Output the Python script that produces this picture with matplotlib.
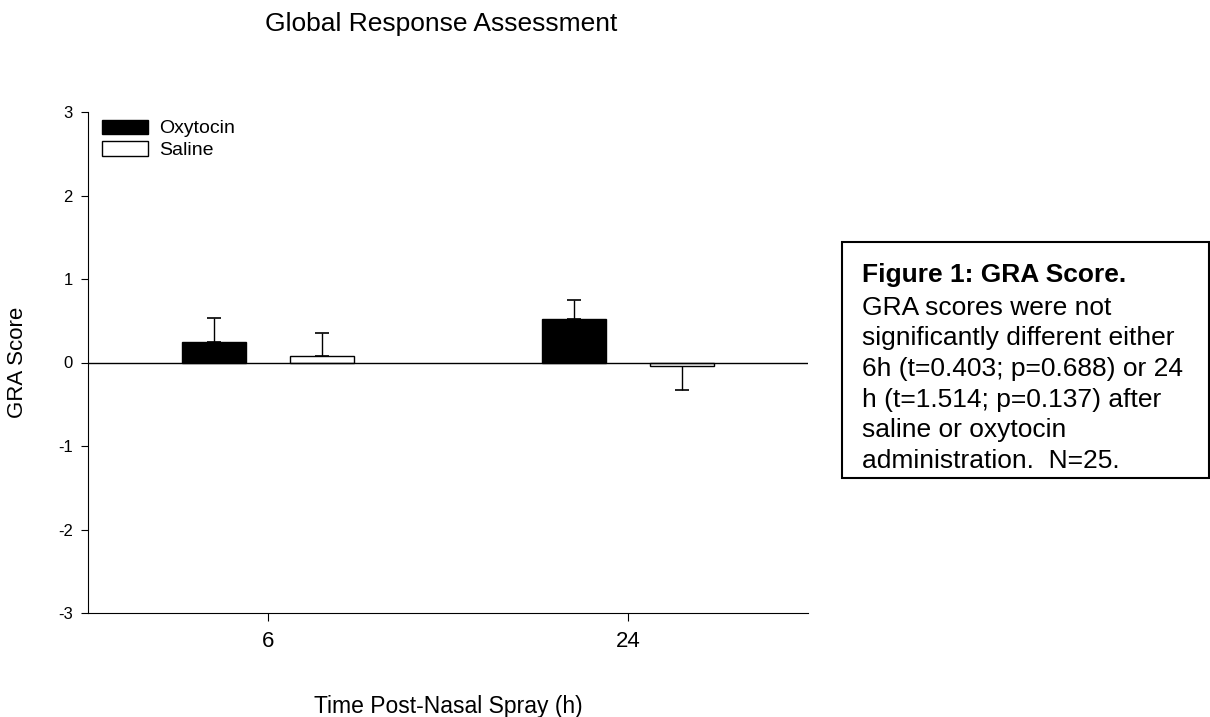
import matplotlib
matplotlib.use('Agg')
import matplotlib.pyplot as plt
from matplotlib.patches import Rectangle
import numpy as np

plt.rcParams['font.family'] = ['Liberation Sans', 'DejaVu Sans']
plt.rcParams['axes.unicode_minus'] = False

# data
times = ['6', '24']
oxytocin = [0.245, 0.526]
oxytocin_err = [0.29, 0.22]
saline = [0.08, -0.043]
saline_err = [0.27, 0.29]
yticks = [-3, -2, -1, 0, 1, 2, 3]

caption_title = 'Figure 1: GRA Score.'
caption_body = ('GRA scores were not\nsignificantly different either\n'
                '6h (t=0.403; p=0.688) or 24\nh (t=1.514; p=0.137) after\n'
                'saline or oxytocin\nadministration.  N=25.')


def one_sided(vals, errs):
    # error bar only in the direction of the bar
    lo = [e if v < 0 else 0 for v, e in zip(vals, errs)]
    hi = [0 if v < 0 else e for v, e in zip(vals, errs)]
    return [lo, hi]


fig = plt.figure(figsize=(12.1, 7.17), dpi=100)
ax = fig.add_axes([88/1210, 1-613/717, 720/1210, 501/717])

x = np.arange(len(times))
w = 0.18
off = 0.15

ax.bar(x - off, oxytocin, w, color='black', edgecolor='black', linewidth=1,
       label='Oxytocin', zorder=3)
ax.bar(x + off, saline, w, color='white', edgecolor='black', linewidth=1,
       label='Saline', zorder=3)
ax.errorbar(x - off, oxytocin, yerr=one_sided(oxytocin, oxytocin_err), fmt='none',
            ecolor='black', elinewidth=1, capsize=4.7, capthick=1.2, zorder=2)
ax.errorbar(x + off, saline, yerr=one_sided(saline, saline_err), fmt='none',
            ecolor='black', elinewidth=1, capsize=4.7, capthick=1.2, zorder=2)

ax.axhline(0, color='black', linewidth=1, zorder=4)

ax.set_xlim(-0.5, 1.5)
ax.set_ylim(-3, 3)
ax.set_yticks(yticks)
ax.set_xticks(x)
ax.set_xticklabels(times, fontsize=16)
ax.tick_params(axis='y', direction='out', length=5, labelsize=12, pad=6)
ax.tick_params(axis='x', direction='out', length=6, pad=7)
ax.spines['top'].set_visible(False)
ax.spines['right'].set_visible(False)

ax.set_ylabel('GRA Score', fontsize=16)
ax.yaxis.set_label_coords(-0.083, 0.5)
ax.set_xlabel('Time Post-Nasal Spray (h)', fontsize=16.5)
ax.xaxis.set_label_coords(0.5, -0.163)

ax.legend(loc='upper left', bbox_to_anchor=(0.019, 0.985), frameon=False,
          fontsize=14, borderpad=0, borderaxespad=0, handlelength=2.4,
          handleheight=0.75, handletextpad=0.55, labelspacing=0.2)

fig.text(441/1210, 1-31/717, 'Global Response Assessment', fontsize=19,
         ha='center', va='baseline')

# caption box on the right
fig.patches.append(Rectangle((842/1210, 1-478/717), 367/1210, 236/717,
                             transform=fig.transFigure, fill=False,
                             edgecolor='black', linewidth=1.5))
fig.text(862/1210, 1-282/717, caption_title, fontsize=19, fontweight='bold',
         ha='left', va='baseline')
fig.text(862/1210, 1-468/717, caption_body, fontsize=19, ha='left', va='baseline',
         linespacing=1.35)

plt.savefig('out.png', dpi=100)
